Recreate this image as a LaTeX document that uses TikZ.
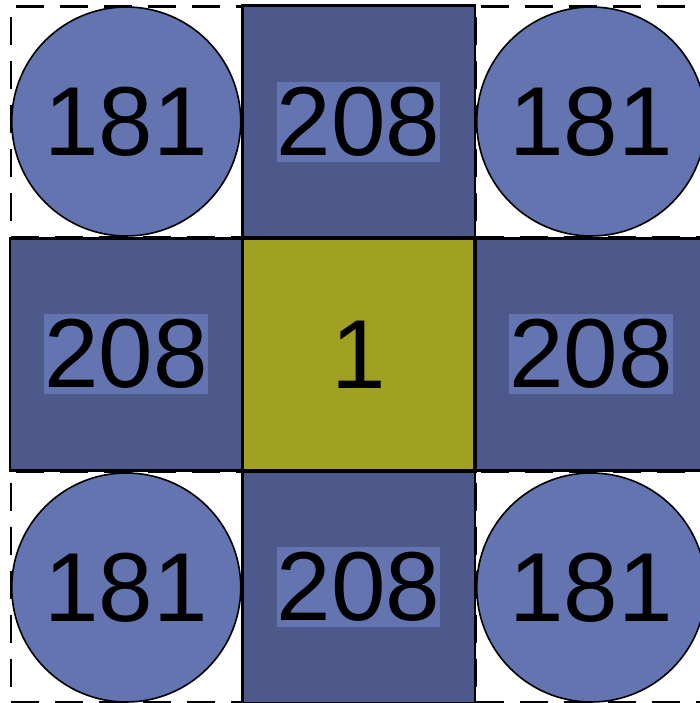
\documentclass[tikz,border=0pt]{standalone}
\usepackage{fontspec}
\setmainfont{Liberation Sans}
\definecolor{circ}{RGB}{99,116,176}
\definecolor{edgec}{RGB}{76,89,138}
\definecolor{olivec}{RGB}{160,160,34}
\newcommand{\numfont}{\fontsize{98}{98}\selectfont}
\begin{document}
\begin{tikzpicture}[x=1pt,y=-1pt,
  corner/.style={draw, dash pattern=on 28pt off 16pt, line width=2.4pt, minimum size=231pt, inner sep=0pt},
  disc/.style={circle, draw, line width=1.6pt, fill=circ, minimum size=229pt, inner sep=0pt, font=\numfont},
  side/.style={rectangle, draw, line width=2.6pt, fill=edgec, minimum size=232.5pt, inner sep=0pt},
  tag/.style={fill=circ, minimum width=163pt, minimum height=80pt, inner sep=0pt, font=\numfont},
  centre/.style={rectangle, draw, line width=3.6pt, fill=olivec, minimum size=232.5pt, inner sep=0pt, font=\numfont}]
\useasboundingbox (0,0) rectangle (700,703);
\fill[white] (0,0) rectangle (700,703);
\clip (0,0) rectangle (700,703);
% corner circles
\node[disc] (dtl) at (126.25,121.5) {181};
\node[disc] (dtr) at (591.25,121.5) {181};
\node[disc] (dbl) at (126.25,587.5) {181};
\node[disc] (dbr) at (591.25,587.5) {181};
% dashed corner cells
\node[corner] (ctl) at (126.25,122) {};
\node[corner] (ctr) at (591.25,122) {};
\node[corner] (cbl) at (126.25,587) {};
\node[corner] (cbr) at (591.25,587) {};
% side cells
\node[side] (st) at (358.75,122) {};
\node[side] (sl) at (126.25,354.5) {};
\node[side] (sr) at (591.25,354.5) {};
\node[side] (sb) at (358.75,587) {};
\node[tag] (tt) at (358.5,122) {208};
\node[tag] (tl) at (126,354) {208};
\node[tag] (tr) at (591,354) {208};
\node[tag] (tb) at (358.5,587) {208};
% centre
\node[centre] (c) at (358.75,354.5) {1};
\end{tikzpicture}
\end{document}
